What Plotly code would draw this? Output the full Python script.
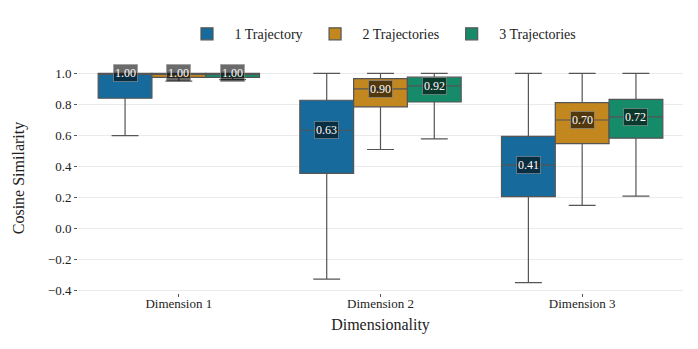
import plotly.graph_objects as go

dimensions = ['Dimension 1', 'Dimension 2', 'Dimension 3']
series = ['1 Trajectory', '2 Trajectories', '3 Trajectories']
colors = ['#176b9c', '#c38720', '#168b6a']

# box statistics (lower whisker, q1, median, q3, upper whisker)
lower = [[0.60, -0.325, -0.347], [0.95, 0.51, 0.15], [0.96, 0.578, 0.21]]
q1 = [[0.84, 0.356, 0.206], [0.975, 0.784, 0.548], [0.975, 0.816, 0.583]]
median = [[1.00, 0.634, 0.41], [1.00, 0.90, 0.70], [1.00, 0.92, 0.72]]
q3 = [[1.00, 0.827, 0.595], [1.00, 0.966, 0.812], [1.00, 0.976, 0.833]]
upper = [[1.00, 1.00, 1.00], [1.00, 1.00, 1.00], [1.00, 1.00, 1.00]]

FONT = 'Liberation Serif'
box_w = 0.8 / len(series)

fig = go.Figure()
for i, name in enumerate(series):
    fig.add_trace(go.Box(
        name=name,
        x=dimensions,
        lowerfence=lower[i],
        q1=q1[i],
        median=median[i],
        q3=q3[i],
        upperfence=upper[i],
        fillcolor=colors[i],
        line=dict(color='#555555', width=1.2),
        whiskerwidth=0.5,
        boxpoints=False,
        hoverinfo='skip',
    ))

for i in range(len(series)):
    for j in range(len(dimensions)):
        fig.add_annotation(
            x=j + (i - 1) * box_w,
            y=median[i][j],
            text=f'{median[i][j]:.2f}',
            showarrow=False,
            font=dict(family=FONT, size=12, color='white'),
            bgcolor='rgba(0,0,0,0.58)',
            bordercolor='rgba(150,150,150,0.6)',
            borderwidth=1,
            borderpad=1,
        )

# the page body adds 8px on the top/left, margins are shifted to compensate
fig.update_layout(
    width=698,
    height=349,
    boxmode='group',
    boxgap=0.2,
    boxgroupgap=0,
    plot_bgcolor='white',
    paper_bgcolor='white',
    font=dict(family=FONT, size=13, color='#222222'),
    margin=dict(l=70, r=23, t=55, b=64, autoexpand=False),
    legend=dict(
        orientation='h',
        x=0.5, xanchor='center',
        yref='container',
        y=0.925, yanchor='middle',
        font=dict(size=14),
        itemwidth=45,
        traceorder='normal',
    ),
    xaxis=dict(
        title=dict(text='Dimensionality', font=dict(size=16), standoff=9),
        range=[-0.5, 2.5],
        showgrid=False,
        zeroline=False,
        automargin=False,
        ticks='outside', ticklen=3, tickcolor='#555555',
        ticklabelstandoff=-5,
    ),
    yaxis=dict(
        title=dict(text='Cosine Similarity', font=dict(size=16), standoff=19),
        range=[-0.414, 1.067],
        dtick=0.2,
        tickformat='.1f',
        showgrid=True, gridcolor='#ebebeb', gridwidth=1,
        zeroline=False,
        automargin=False,
        ticks='outside', ticklen=3, tickcolor='#555555',
    ),
)

fig.write_html('out.html')
